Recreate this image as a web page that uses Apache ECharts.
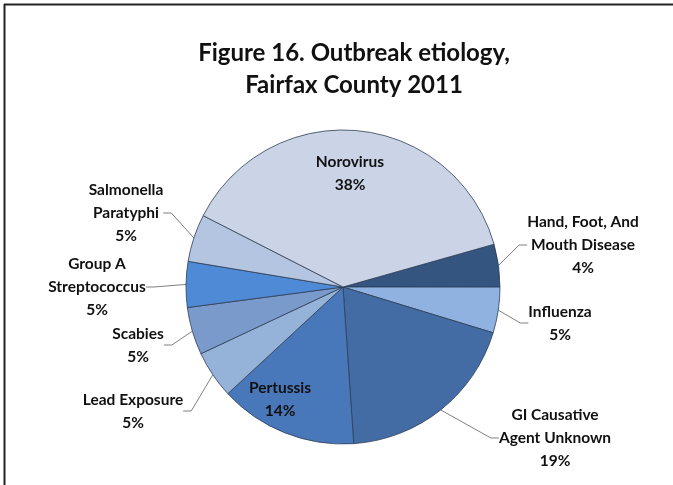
<!DOCTYPE html>
<html>
<head>
<meta charset="utf-8">
<script src="https://cdn.jsdelivr.net/npm/echarts@6/dist/echarts.min.js"></script>
<style>
html,body{margin:0;padding:0;background:#fff;}
#chart{width:673px;height:485px;}
</style>
</head>
<body>
<div id="chart"></div>
<script>
// Data
var categories = [
  'Hand, Foot, And\nMouth Disease',
  'Influenza',
  'GI Causative\nAgent Unknown',
  'Pertussis',
  'Lead Exposure',
  'Scabies',
  'Group A\nStreptococcus',
  'Salmonella\nParatyphi',
  'Norovirus'
];
var values = [4.4, 4.7, 19.2, 14.2, 4.9, 4.9, 4.7, 4.9, 38.1];
var titleLines = ['Figure 16. Outbreak etiology,', 'Fairfax County 2011'];

// Styles
var colors = ['#33557f', '#8fb2e1', '#426ca3', '#4877ba', '#95b3d8', '#7a9acb', '#4f8ad6', '#b4c5e1', '#cad4e6'];
var insideLabels = {'Pertussis': true, 'Norovirus': true};
var labelPos = [
  [583, 245], [560, 323], [555, 438], [280, 399], [133, 411],
  [138, 345], [97, 287], [126, 213], [350, 173]
];
var FONT = 'Lato, "Open Sans", sans-serif';

var chart = echarts.init(document.getElementById('chart'), null, {renderer: 'canvas'});
chart.setOption({
  backgroundColor: '#ffffff',
  animation: false,
  title: {
    text: titleLines.join('\n'),
    left: 349,
    top: 32,
    textAlign: 'center',
    textStyle: {fontFamily: FONT, fontSize: 24, fontWeight: 'bold', color: '#111', lineHeight: 32}
  },
  graphic: [
    {type: 'line', shape: {x1: 4, y1: 4.5, x2: 673, y2: 4.5}, style: {stroke: '#222', lineWidth: 2}},
    {type: 'line', shape: {x1: 4.5, y1: 4, x2: 4.5, y2: 485}, style: {stroke: '#222', lineWidth: 2}}
  ],
  series: [{
    type: 'pie',
    center: [343, 287],
    radius: [0, 157],
    startAngle: 15.8,
    clockwise: true,
    percentPrecision: 0,
    avoidLabelOverlap: false,
    itemStyle: {borderColor: '#2d3d55', borderWidth: 0.8},
    label: {
      show: true,
      position: 'outside',
      formatter: '{b}\n{d}%',
      fontFamily: FONT,
      fontSize: 15.5,
      fontWeight: 'bold',
      color: '#111',
      lineHeight: 23,
      align: 'center'
    },
    labelLine: {show: true, length: 10, length2: 8, lineStyle: {color: '#808080', width: 1}},
    labelLayout: function (p) {
      var pos = labelPos[p.dataIndex];
      return {x: pos[0], y: pos[1], align: 'center', verticalAlign: 'middle'};
    },
    data: categories.map(function (c, i) {
      var d = {name: c, value: values[i], itemStyle: {color: colors[i]}};
      if (insideLabels[c]) { d.labelLine = {show: false}; }
      return d;
    })
  }]
});
</script>
</body>
</html>
